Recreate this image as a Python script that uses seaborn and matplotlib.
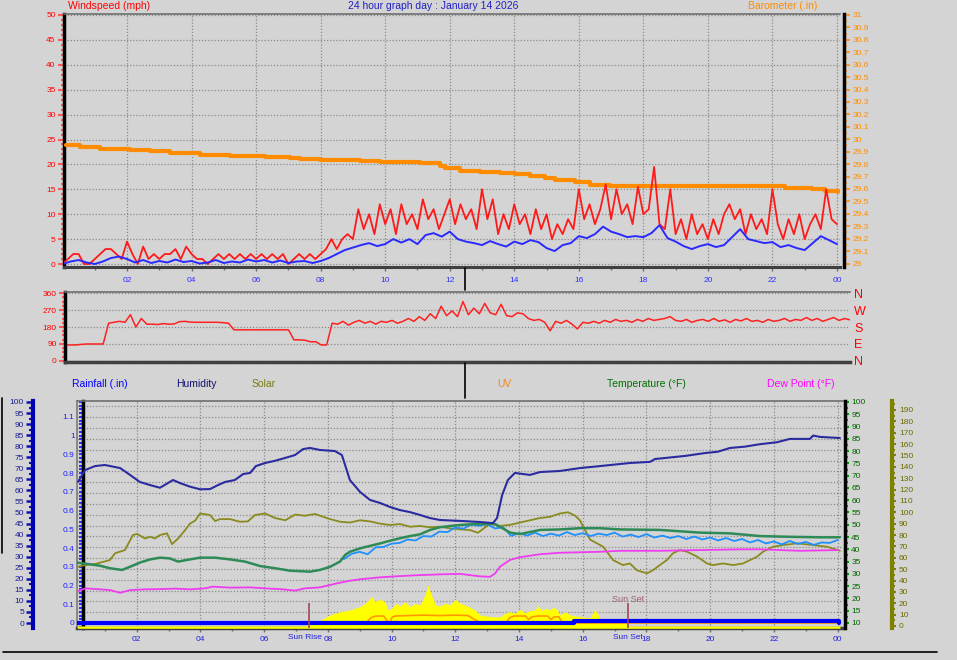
import numpy as np
import matplotlib
matplotlib.use("Agg")
import matplotlib.pyplot as plt
from matplotlib.ticker import MultipleLocator, FuncFormatter
from matplotlib.lines import Line2D
import seaborn as sns

# ── data ──────────────────────────────────────────────────────────────────
hour_ticks = [2, 4, 6, 8, 10, 12, 14, 16, 18, 20, 22, 24]
hour_labels = ["02", "04", "06", "08", "10", "12", "14", "16", "18", "20", "22", "00"]

# wind gust (mph), one reading every 10 minutes from 00:00
gust_mph = [0, 1, 2, 2, 0, 0, 1, 2, 3, 3, 2, 1, 4.5, 2, 0, 3.5, 1, 2, 1, 2,
            2, 3, 1, 3.5, 2, 1, 1, 0, 1, 2, 1, 2, 1, 2, 1, 2, 1, 2, 1, 2,
            1, 2, 0, 1, 2, 1, 2, 1,
            2, 3, 5, 3, 5, 6, 5, 11, 7, 10, 6, 12, 8, 11, 6, 12, 8, 10, 7, 13,
            9, 11, 7, 10, 13, 8, 12, 9, 11, 7, 15, 9, 13, 6, 10, 7, 12, 8, 10, 6,
            11, 7, 10, 5, 8, 6, 9, 7,
            15, 9, 12, 8, 11, 16, 9, 15, 10, 12, 8, 15.5, 10, 11, 19.5, 8, 7, 15, 6, 9,
            5, 10, 6, 8, 5, 9, 6, 10, 12, 9, 11, 6, 10, 7, 9, 6, 15, 8, 5, 9,
            6, 10, 5, 8, 10, 7, 15, 9, 8]
gust_hours = np.arange(len(gust_mph)) / 6

# average wind (mph), every 15 minutes
wind_avg = [0, 0.5, 0.8, 0.3, 0, 0.5, 1.2, 1.5, 1.0, 0.3, 0.8, 0.2, 0.6, 0.3, 0.9, 0.4,
            0.6, 0.1, 0.3, 0.8, 0.2, 0.5, 0.3, 0.9, 0.5, 0.8, 0.3, 0.7, 0.2, 0.5, 0.6, 0.2,
            0.6, 1.2, 2.0, 2.8, 3.3, 3.8, 4.2, 3.6, 4.0, 5.0, 4.3, 5.0, 4.0, 5.8, 6.2, 5.5,
            6.5, 5.0, 4.5, 4.2, 3.8, 4.6, 4.0, 3.5, 4.5, 4.0, 4.8, 4.4, 3.2, 2.6, 3.8, 4.2,
            5.6, 5.2, 6.0, 7.5, 6.5, 6.0, 5.4, 5.6, 5.4, 6.2, 7.8, 5.2, 4.5, 3.6, 3.0, 3.6,
            4.0, 3.4, 3.8, 5.4, 7.0, 5.0, 4.6, 4.2, 4.4, 3.4, 3.8, 3.2, 2.8, 4.2, 5.6, 4.8,
            4.0]
avg_hours = np.arange(len(wind_avg)) / 4

baro_hours = [0.11, 0.54, 1.16, 2.09, 2.71, 3.33, 4.26, 5.19, 6.28, 7.05, 7.36, 7.98,
              9.22, 9.84, 11.08, 11.70, 11.85, 12.32, 12.94, 13.56, 14.02, 14.49, 14.95,
              15.26, 15.88, 16.35, 16.97, 21.92, 22.39, 23.22, 23.63, 24.03]
baro_inhg = [29.956, 29.940, 29.920, 29.916, 29.908, 29.890, 29.876, 29.867, 29.859,
             29.851, 29.843, 29.835, 29.827, 29.819, 29.807, 29.787, 29.771, 29.747,
             29.735, 29.731, 29.723, 29.707, 29.690, 29.675, 29.659, 29.635, 29.627,
             29.627, 29.610, 29.602, 29.586, 29.578]

# wind direction (degrees), every 10 minutes
wind_dir = [85, 85, 85, 88, 90, 90, 90, 90, 200, 205, 210, 205, 245, 180, 225, 195, 195, 193, 198, 195,
            196, 208, 210, 206, 205, 205, 205, 205, 205, 203, 200, 165, 165, 165, 165, 165, 165, 165, 165, 165,
            165, 165, 112, 112, 110, 102, 102, 85, 85, 200, 195, 210, 190, 205, 215, 200, 210, 195, 210, 205,
            215, 200, 210, 225, 210, 235, 215, 250, 225, 290, 240, 265, 235, 315, 245, 280, 250, 305, 255, 245,
            300, 240, 235, 255, 250, 225, 215, 220, 205, 160, 210, 200, 215, 195, 170, 205, 200, 210, 200, 215,
            205, 220, 210, 215, 205, 220, 210, 225, 215, 220, 225, 235, 215, 210, 220, 205, 215, 220, 210, 225,
            210, 218, 205, 220, 212, 225, 210, 215, 205, 220, 210, 215, 225, 210, 220, 215, 230, 215, 225, 210,
            220, 230, 215, 225, 218]
dir_hours = np.arange(len(wind_dir)) / 6
compass_ticks = [0, 90, 180, 270, 360]
compass_labels = ["N", "E", "S", "W", "N"]

hum_hours = [0.16, 0.38, 0.69, 1.00, 1.48, 1.79, 2.10, 2.42, 2.73, 3.14, 3.36, 3.67, 3.99, 4.30,
             4.55, 4.77, 5.08, 5.34, 5.56, 5.74, 6.03, 6.34, 6.66, 6.97, 7.22, 7.44, 7.75, 8.22,
             8.44, 8.69, 9.01, 9.32, 9.64, 9.95, 10.26, 10.57, 10.89, 11.20, 11.52, 12.15, 12.77,
             13.18, 13.31, 13.47, 13.65, 13.87, 14.34, 14.66, 15.29, 15.91, 16.54, 17.48, 18.11,
             18.27, 19.21, 19.84, 20.24, 20.62, 21.09, 21.56, 22.10, 22.50, 23.13, 23.23, 23.45, 24.07]
hum_pct = [63.9, 69.2, 71.0, 71.5, 70.1, 67.0, 63.8, 62.4, 61.2, 64.7, 63.3, 61.7, 60.5, 60.6,
           62.4, 63.8, 64.7, 67.4, 67.9, 71.0, 72.4, 73.4, 74.7, 76.0, 78.7, 79.2, 78.3, 77.8,
           76.0, 64.7, 59.3, 55.7, 54.3, 52.5, 51.1, 50.2, 48.9, 47.5, 46.6, 46.2, 45.7,
           45.2, 47.5, 57.9, 64.7, 67.9, 67.0, 68.3, 68.8, 70.1, 71.0, 72.4, 72.9,
           74.2, 75.6, 76.9, 77.5, 79.2, 79.8, 80.9, 81.8, 83.3, 83.3, 84.8, 84.2, 83.7]

temp_hours = [0.13, 0.53, 0.85, 1.16, 1.54, 1.79, 2.10, 2.42, 2.73, 3.04, 3.30, 3.67, 3.99,
              4.46, 4.93, 5.40, 5.87, 6.34, 6.81, 7.44, 7.75, 8.07, 8.38, 8.54, 8.69, 9.01,
              9.32, 9.64, 9.95, 10.26, 10.58, 10.89, 11.21, 11.52, 11.83, 12.15, 12.62, 13.25,
              13.72, 14.03, 14.66, 15.29, 15.91, 16.54, 17.17, 18.42, 19.68, 20.62, 21.56,
              22.50, 23.45, 24.07]
temp_f = [34.6, 33.9, 33.3, 32.3, 31.6, 32.9, 34.6, 35.9, 36.6, 36.3, 35.0, 35.9, 36.6,
          36.6, 35.9, 35.0, 33.2, 32.3, 31.3, 30.9, 31.6, 32.9, 35.0, 37.7, 39.0, 40.4,
          41.4, 42.4, 43.5, 44.5, 45.4, 46.1, 47.9, 49.0, 49.5, 49.9, 50.3, 50.3,
          46.8, 46.2, 47.9, 48.1, 48.6, 48.6, 48.1, 47.9, 46.8, 46.5, 45.4,
          45.1, 44.9, 44.9]

# light blue trace (follows temperature, hidden under it before 08:30), every 15 min
chill_f = [36.0, 38.2, 39.0, 38.0, 40.8, 41.0, 42.3, 42.6, 44.0, 43.6,
           45.4, 45.2, 47.2, 47.0, 48.9, 48.4, 50.1, 49.6, 50.2, 48.5,
           49.0, 45.5, 46.6, 45.6, 46.8, 45.4, 46.4, 45.6, 47.0, 45.8,
           46.6, 45.4, 46.4, 45.8, 46.8, 45.2, 46.0, 45.0, 46.2, 44.8,
           45.6, 44.6, 45.4, 44.2, 45.2, 44.0, 44.8, 43.6, 44.6, 43.4,
           44.2, 42.8, 43.8, 42.4, 43.2, 42.0, 43.4, 42.2, 43.0, 41.8,
           42.8, 42.6, 43.8]
chill_hours = 8.5 + np.arange(len(chill_f)) * 0.25

dew_hours = [0.13, 0.38, 0.85, 1.16, 1.48, 1.79, 2.26, 2.73, 3.20, 3.67, 4.14, 4.39, 4.93,
             5.56, 6.03, 6.50, 6.97, 7.28, 7.75, 8.07, 8.38, 8.69, 9.01, 9.64, 10.26, 10.89,
             11.52, 12.15, 12.77, 13.09, 13.25, 13.40, 13.72, 14.03, 14.66, 15.29, 15.91,
             16.54, 17.17, 18.42, 19.68, 20.94, 21.56, 22.82, 24.01]
dew_f = [22.7, 24.1, 23.7, 23.4, 22.3, 23.4, 23.7, 23.8, 24.0, 23.7, 24.1, 24.8, 24.4,
         24.5, 24.1, 23.8, 23.2, 24.1, 24.5, 25.5, 26.4, 27.2, 27.8, 28.6, 29.1, 29.5,
         29.8, 30.0, 29.0, 28.8, 30.2, 32.9, 35.7, 36.8, 38.0, 38.6, 38.8,
         39.0, 39.4, 39.4, 39.7, 40.0, 40.0, 39.4, 39.7]

solar_hours = [0.13, 0.38, 0.69, 0.85, 1.16, 1.32, 1.63, 1.88, 2.01, 2.26, 2.42, 2.57, 2.73,
               2.95, 3.11, 3.30, 3.52, 3.67, 3.83, 3.99, 4.30, 4.46, 4.61, 4.93, 5.24, 5.49,
               5.71, 6.03, 6.34, 6.66, 6.97, 7.28, 7.60, 8.07, 8.38, 8.69, 9.01, 9.32, 9.64,
               9.95, 10.26, 10.58, 10.89, 11.21, 11.52, 11.83, 12.15, 12.46, 12.71, 13.09,
               13.40, 13.72, 14.03, 14.34, 14.66, 14.97, 15.29, 15.54, 15.76, 15.91, 16.23,
               16.64, 16.95, 17.26, 17.48, 17.70, 18.02, 18.20, 18.42, 18.64, 18.83, 19.05,
               19.27, 19.59, 19.90, 20.09, 20.40, 20.72, 21.03, 21.25, 21.47, 21.66, 21.97,
               22.29, 22.72, 23.23, 23.67, 24.07]
solar_val = [52, 53.6, 54.5, 55.7, 58, 64, 66.8, 80, 81, 77, 78.5, 77, 80,
             81.5, 72, 77, 84.4, 90, 92.6, 99, 97.6, 92.3, 94, 94, 91.7, 92,
             97.6, 99, 95, 93, 98, 97, 98.5, 94, 91.7, 91, 93, 92, 90,
             88.8, 89.7, 87.3, 88, 86.8, 87.3, 85.9, 85, 84.4, 82, 90,
             88, 89, 91, 93, 95, 96, 99, 100, 97, 93, 76,
             69.7, 58, 53.6, 55, 49, 46.3, 49, 53.6, 58, 64, 66.8,
             65.4, 61, 55, 53.6, 55, 53.6, 55, 58, 61, 65.4, 69.7,
             71.2, 72.7, 71.2, 69.7, 66.2]

rad_hours = [0.13, 7.30, 7.60, 8.07, 8.38, 8.69, 9.01, 9.17, 9.38, 9.48, 9.64, 9.79, 9.89,
             10.01, 10.14, 10.26, 10.42, 10.58, 10.73, 10.89, 11.05, 11.14, 11.27, 11.39,
             11.52, 11.68, 11.83, 11.99, 12.15, 12.30, 12.46, 12.62, 12.77, 13.09, 13.40,
             13.56, 13.72, 13.87, 14.03, 14.19, 14.34, 14.50, 14.60, 14.72, 14.82, 14.97,
             15.07, 15.19, 15.29, 15.44, 15.60, 15.91, 16.23, 16.38, 16.48, 16.54, 16.70,
             17.01, 17.17, 17.33, 17.48, 24.07]
rad_val = [0, 0, 2.6, 9.7, 12.6, 14.1, 17, 20, 25.8, 21.4, 23.5, 21.4, 14.1,
           15.8, 20, 17.6, 21.4, 17, 20, 18.5, 27.3, 36, 25.8, 18.5,
           17.6, 20, 18.5, 23.5, 20, 18.5, 16.4, 14.1, 9.7, 8.2, 7.9,
           11.2, 12.6, 11.2, 14.7, 11.7, 13.5, 14.1, 17.6, 13.5, 15.6, 14.1,
           16.4, 14.7, 9.7, 12.6, 9.7, 8.2, 7.3, 14.7, 9.7, 6.2, 5.3,
           4.4, 3.5, 2.2, 0, 0]

uv_hours = [0.13, 9.20, 9.35, 9.50, 9.75, 9.85, 9.95, 10.00, 10.10, 10.50, 11.00, 11.50,
            12.00, 12.40, 12.60, 12.80, 13.60, 13.70, 13.85, 14.20, 14.30, 14.40, 14.60,
            14.90, 15.00, 15.10, 15.25, 15.35, 15.50, 24.07]
uv_idx = [0, 0, 0.6, 0.8, 0.8, 0.3, 0, 0.6, 0.8, 0.85, 0.9, 0.85,
          0.9, 0.85, 0.4, 0, 0, 0.6, 0.8, 0.8, 0.4, 0.7, 0.8,
          0.8, 0.4, 0.7, 0.7, 0.1, 0, 0]

rain_hours = [0.13, 15.70, 15.72, 24.00, 24.05]
rain_in = [0, 0, 0.01, 0.01, 0]

sun_events = ["Sun Rise", "Sun Set"]
sun_hours = [7.41, 17.42]

# ── styling ───────────────────────────────────────────────────────────────
sns.set_theme(style="white")
plt.rcParams["font.family"] = ["Liberation Sans", "DejaVu Sans"]

W, H = 957, 660
BG = "#D4D4D4"
GRID = dict(color="#8A8A8A", linestyle=(0, (1, 1.5)), linewidth=0.9)
TICK = 6


def box(x0, y0, x1, y1):
    return [x0 / W, 1 - y1 / H, (x1 - x0) / W, (y1 - y0) / H]


def only_spines(ax, keep):
    for name, sp in ax.spines.items():
        sp.set_visible(name in keep)


def fmt_g(v, _):
    return f"{round(v, 2):g}"


fig = plt.figure(figsize=(W / 100, H / 100), dpi=100, facecolor=BG)

# ── top panel: wind speed + barometer ─────────────────────────────────────
ax_w = fig.add_axes(box(64, 14, 840, 267))
ax_b = ax_w.twinx()
ax_wl = ax_w.twinx()
ax_w.set_facecolor(BG)

sns.lineplot(x=baro_hours, y=baro_inhg, ax=ax_b, color="#FF8C00", linewidth=3,
             drawstyle="steps-post", estimator=None, sort=False)
sns.lineplot(x=gust_hours, y=gust_mph, ax=ax_wl, color="#FF1A1A", linewidth=1.3,
             estimator=None, sort=False)
sns.lineplot(x=avg_hours, y=wind_avg, ax=ax_wl, color="#2A2AFF", linewidth=1.4,
             estimator=None, sort=False)

ax_w.set_xlim(0.0465, 24.094)
for a in (ax_w, ax_wl):
    a.set_ylim(-0.6, 50.2)
ax_b.set_ylim(28.972, 31.008)

only_spines(ax_w, ["left", "bottom", "top"])
ax_w.spines["left"].set(color="black", linewidth=2.5)
ax_w.spines["bottom"].set(color="#404040", linewidth=2.2)
ax_w.spines["top"].set(color="#6E6E6E", linewidth=1.2)
ax_w.yaxis.set_major_locator(MultipleLocator(5))
ax_w.yaxis.set_minor_locator(MultipleLocator(1))
ax_w.tick_params(axis="y", which="major", left=True, right=False, length=4, width=1.5,
                 color="#FF5A5A", labelcolor="#FF0000", labelsize=TICK, pad=2)
ax_w.tick_params(axis="y", which="minor", left=True, right=False, length=2, width=1.5,
                 color="#FF5A5A")
ax_w.set_xticks(hour_ticks)
ax_w.set_xticklabels(hour_labels)
ax_w.xaxis.set_minor_locator(MultipleLocator(1))
ax_w.tick_params(axis="x", which="major", bottom=True, length=3, width=1, color="#707070",
                 labelcolor="#3030FF", labelsize=TICK, pad=4)
ax_w.tick_params(axis="x", which="minor", bottom=True, length=2, width=1, color="#707070")
ax_w.grid(True, which="major", **GRID)

only_spines(ax_b, ["right"])
ax_b.spines["right"].set_position(("axes", 1.005))
ax_b.spines["right"].set(color="black", linewidth=2.5)
ax_b.yaxis.set_major_locator(MultipleLocator(0.1))
ax_b.yaxis.set_minor_locator(MultipleLocator(0.05))
ax_b.yaxis.set_major_formatter(FuncFormatter(fmt_g))
ax_b.tick_params(axis="y", which="major", right=True, length=4, width=1.5,
                 color="#FF9A30", labelcolor="#FF8C00", labelsize=TICK, pad=2)
ax_b.tick_params(axis="y", which="minor", right=True, length=2, width=1.5, color="#FF9A30")
ax_b.grid(False)

only_spines(ax_wl, [])
ax_wl.set_yticks([])
ax_wl.grid(False)
for a in (ax_b, ax_wl):
    a.set_ylabel("")
ax_w.set_xlabel("")

fig.text(68 / W, 1 - 6 / H, "Windspeed (mph)", color="#FF0000", fontsize=7.5,
         ha="left", va="center")
fig.text(433 / W, 1 - 6 / H, "24 hour graph day : January 14 2026", color="#2020C8",
         fontsize=7.5, ha="center", va="center")
fig.text(748 / W, 1 - 6 / H, "Barometer (.in)", color="#FF8C00", fontsize=7.5,
         ha="left", va="center")

# ── middle panel: wind direction ─────────────────────────────────────────
ax_d = fig.add_axes(box(65, 292, 850, 362))
ax_dc = ax_d.twinx()
ax_d.set_facecolor(BG)
sns.lineplot(x=dir_hours, y=wind_dir, ax=ax_d, color="#FF2020", linewidth=1.1,
             estimator=None, sort=False)
ax_d.set_xlim(0, 24)
for a in (ax_d, ax_dc):
    a.set_ylim(-5.3, 365.3)
only_spines(ax_d, ["left", "bottom", "top"])
ax_d.spines["left"].set(color="black", linewidth=2.5)
ax_d.spines["bottom"].set(color="#404040", linewidth=2.5)
ax_d.spines["top"].set(color="#6E6E6E", linewidth=1.2)
ax_d.set_yticks(compass_ticks)
ax_d.yaxis.set_minor_locator(MultipleLocator(22.5))
ax_d.tick_params(axis="y", which="major", left=True, right=False, length=4, width=1.5,
                 color="#FF5A5A", labelcolor="#FF0000", labelsize=TICK, pad=2)
ax_d.tick_params(axis="y", which="minor", left=True, right=False, length=2, width=1.5,
                 color="#FF5A5A")
ax_d.set_xticks([])
ax_d.grid(True, axis="y", which="major", **GRID)
ax_d.set_xlabel("")
ax_d.set_ylabel("")

only_spines(ax_dc, [])
ax_dc.set_yticks(compass_ticks)
ax_dc.set_yticklabels(compass_labels)
ax_dc.tick_params(axis="y", right=True, length=0, labelcolor="#FF0000", labelsize=9, pad=3)
ax_dc.grid(False)

# legend row
for label, xpx, col in [("Rainfall (.in)", 72, "#0000FF"), ("Humidity", 176, "#101070"),
                        ("Solar", 252, "#7A7A10"), ("UV", 497, "#F08A20"),
                        ("Temperature (°F)", 607, "#007000"), ("Dew Point (°F)", 767, "#FF00FF")]:
    fig.text(xpx / W, 1 - 384 / H, label, color=col, fontsize=7.5, ha="left", va="center")

# ── bottom panel: rain / humidity / solar / UV / temperature / dew point ──
ax_r = fig.add_axes(box(77, 401, 843, 628))
ax_s = ax_r.twinx()
ax_u = ax_r.twinx()
ax_t = ax_r.twinx()
ax_h = ax_r.twinx()
ax_rl = ax_r.twinx()
ax_r.set_facecolor(BG)

ax_s.fill_between(rad_hours, -2, rad_val, color="#FFFF00", linewidth=0)
sns.lineplot(x=uv_hours, y=uv_idx, ax=ax_u, color="#FF9900", linewidth=1.2,
             estimator=None, sort=False)
sns.lineplot(x=solar_hours, y=solar_val, ax=ax_s, color="#8A8A1E", linewidth=1.3,
             estimator=None, sort=False)
sns.lineplot(x=chill_hours, y=chill_f, ax=ax_t, color="#1E90FF", linewidth=1.3,
             estimator=None, sort=False)
sns.lineplot(x=temp_hours, y=temp_f, ax=ax_t, color="#2E8B57", linewidth=1.8,
             estimator=None, sort=False)
sns.lineplot(x=dew_hours, y=dew_f, ax=ax_t, color="#F03CF0", linewidth=1.3,
             estimator=None, sort=False)
sns.lineplot(x=hum_hours, y=hum_pct, ax=ax_h, color="#2B2BA0", linewidth=1.5,
             estimator=None, sort=False)
sns.lineplot(x=rain_hours, y=rain_in, ax=ax_rl, color="#0000FF", linewidth=3,
             drawstyle="steps-post", estimator=None, sort=False)

ax_r.set_xlim(0.1255, 24.168)
for a in (ax_r, ax_rl):
    a.set_ylim(-0.0267, 1.1853)
ax_h.set_ylim(-2.26, 100.45)
ax_t.set_ylim(7.96, 100.4)
ax_s.set_ylim(-1.76, 197.9)
ax_u.set_ylim(-0.57, 25.37)

# sunrise / sunset markers
ax_rl.vlines(sun_hours, -0.03, 0.107, color="#A04858", linewidth=1.2)
ax_rl.text(sun_hours[1], 0.128, sun_events[1], color="#A0606E", fontsize=6.5,
           ha="center", va="center")
xax = ax_r.get_xaxis_transform()
ax_r.text(sun_hours[0] + 0.40, -0.04, sun_events[0], transform=xax, color="#2020E0",
          fontsize=TICK, ha="right", va="center")
ax_r.text(sun_hours[1], -0.04, sun_events[1], transform=xax, color="#2020E0",
          fontsize=TICK, ha="center", va="center")

# frame, grid
only_spines(ax_r, ["left", "bottom", "top"])
ax_r.spines["left"].set_position(("axes", 0.0078))
ax_r.spines["left"].set(color="black", linewidth=2.5)
ax_r.spines["bottom"].set(color="#404040", linewidth=2.5)
ax_r.spines["top"].set(color="#6E6E6E", linewidth=1.2)
ax_r.plot([0, 0], [0, 1], transform=ax_r.transAxes, color="#7A7A7A", linewidth=1.2,
          clip_on=False)
ax_r.grid(True, axis="x", which="major", **GRID)
for k in range(1, 21):
    ax_r.axhline(k * 0.05782, zorder=0.5, **GRID)

ax_r.yaxis.set_major_locator(MultipleLocator(0.1))
ax_r.yaxis.set_minor_locator(MultipleLocator(0.02))
ax_r.yaxis.set_major_formatter(FuncFormatter(fmt_g))
ax_r.tick_params(axis="y", which="major", left=True, right=False, length=3, width=1.5,
                 color="#3030FF", labelcolor="#2020FF", labelsize=TICK, pad=3)
ax_r.tick_params(axis="y", which="minor", left=True, right=False, length=3, width=1.5,
                 color="#3030FF")
ax_r.set_xticks(hour_ticks)
ax_r.set_xticklabels(hour_labels)
ax_r.xaxis.set_minor_locator(MultipleLocator(1))
ax_r.tick_params(axis="x", which="major", bottom=True, length=3, width=1, color="#707070",
                 labelcolor="#2020E0", labelsize=TICK, pad=3)
ax_r.tick_params(axis="x", which="minor", bottom=True, length=2, width=1, color="#707070")

# humidity axis (far left)
ax_h.yaxis.tick_left()
only_spines(ax_h, ["left"])
ax_h.spines["left"].set_position(("axes", -0.0574))
ax_h.spines["left"].set(color="#0000B0", linewidth=3)
ax_h.yaxis.set_major_locator(MultipleLocator(5))
ax_h.yaxis.set_minor_locator(MultipleLocator(2.5))
ax_h.tick_params(axis="y", which="major", left=True, right=False, length=5, width=1.8,
                 color="#1010B0", labelcolor="#1C1C90", labelsize=TICK, pad=1.5)
ax_h.tick_params(axis="y", which="minor", left=True, right=False, length=3, width=1.5,
                 color="#1010B0")

# temperature axis (right)
only_spines(ax_t, ["right"])
ax_t.spines["right"].set_position(("axes", 1.0026))
ax_t.spines["right"].set(color="black", linewidth=2.5)
ax_t.yaxis.set_major_locator(MultipleLocator(5))
ax_t.yaxis.set_minor_locator(MultipleLocator(2.5))
ax_t.tick_params(axis="y", which="major", right=True, length=3, width=1.5,
                 color="#00A000", labelcolor="#006400", labelsize=TICK, pad=1.5)
ax_t.tick_params(axis="y", which="minor", right=True, length=2, width=1.5, color="#00A000")

# solar axis (far right)
only_spines(ax_s, ["right"])
ax_s.spines["right"].set_position(("axes", 1.064))
ax_s.spines["right"].set(color="#808000", linewidth=3)
ax_s.yaxis.set_major_locator(MultipleLocator(10))
ax_s.yaxis.set_minor_locator(MultipleLocator(5))
ax_s.tick_params(axis="y", which="major", right=True, length=3, width=1.5,
                 color="#808000", labelcolor="#6B6B00", labelsize=TICK, pad=2)
ax_s.tick_params(axis="y", which="minor", right=True, length=2, width=1.5, color="#808000")

for a in (ax_u, ax_rl):
    only_spines(a, [])
    a.set_yticks([])
for a in (ax_s, ax_u, ax_t, ax_h, ax_rl):
    a.grid(False)
for a in (ax_r, ax_s, ax_u, ax_t, ax_h, ax_rl):
    a.set_ylabel("")
ax_r.set_xlabel("")

# ── window decorations (cursor and separators) ──────────────────────────
for xs, ys in [([465, 465], [268, 290]), ([465, 465], [363, 398]),
               ([1.5, 1.5], [398, 553]), ([3, 937], [652, 652])]:
    fig.add_artist(Line2D([x / W for x in xs], [1 - y / H for y in ys],
                          color="black", linewidth=1.2))

fig.savefig("out.png", dpi=100, facecolor=BG)
